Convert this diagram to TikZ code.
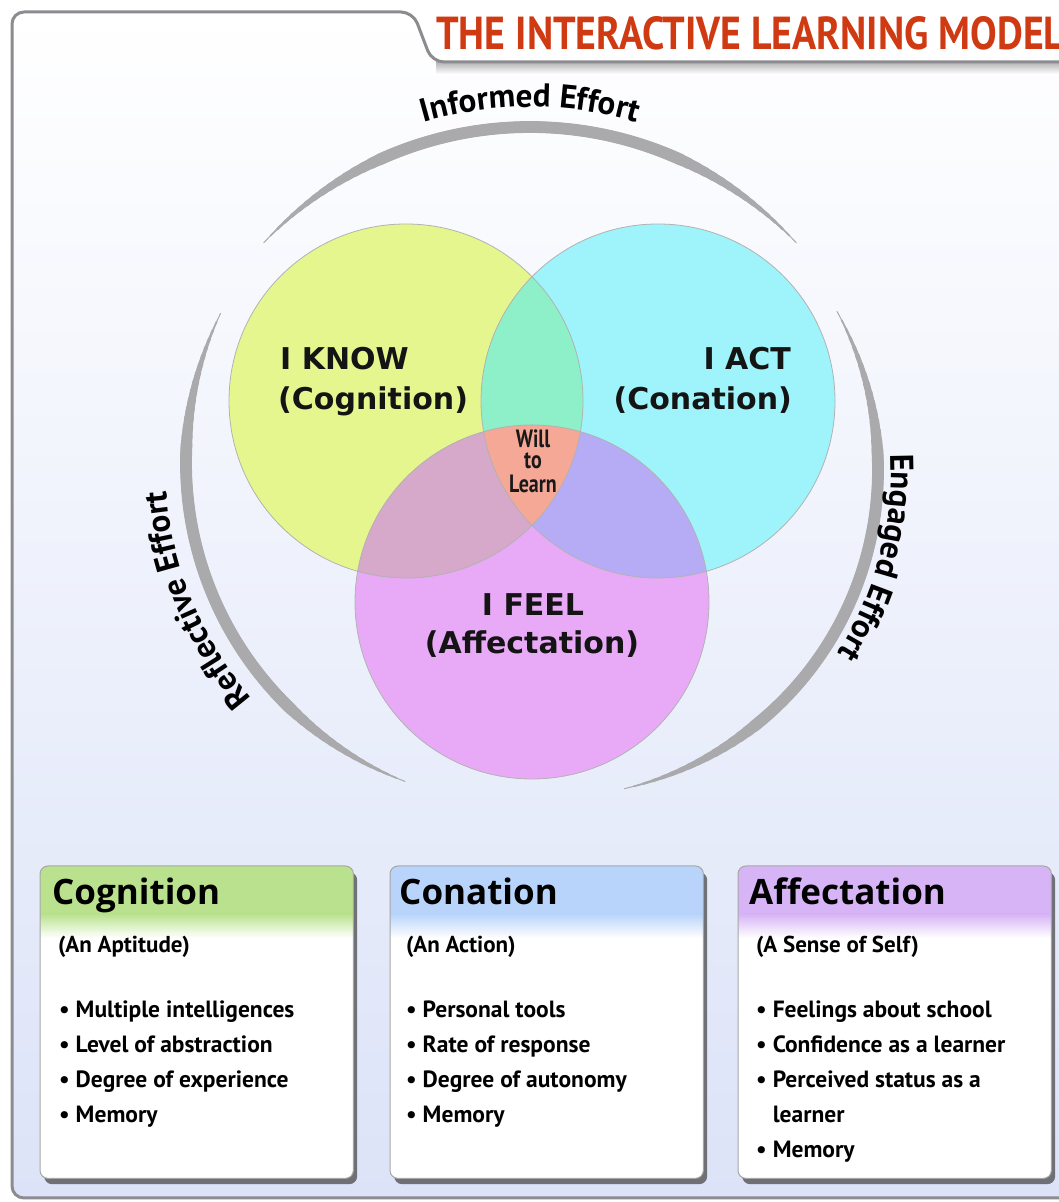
\documentclass[tikz,border=0pt]{standalone}
\usepackage{fontspec}
\usepackage{graphicx}
\setmainfont{PT Sans}
\newfontfamily\labelfont{DejaVu Sans}
\newfontfamily\headfont{Open Sans}
\usetikzlibrary{calc,decorations.text,shadows}

\definecolor{knowcol}{RGB}{230,246,142}
\definecolor{actcol}{RGB}{158,244,250}
\definecolor{feelcol}{RGB}{232,170,246}
\definecolor{knowact}{RGB}{142,240,200}
\definecolor{knowfeel}{RGB}{214,168,202}
\definecolor{actfeel}{RGB}{182,172,246}
\definecolor{willcol}{RGB}{246,168,150}
\definecolor{titlecol}{RGB}{208,58,18}
\definecolor{arcgray}{RGB}{170,170,172}
\definecolor{framegray}{RGB}{140,140,144}
\definecolor{bgmid}{RGB}{246,247,252}
\definecolor{bgbottom}{RGB}{220,227,248}
\definecolor{coghead}{RGB}{186,226,142}
\definecolor{conhead}{RGB}{184,212,250}
\definecolor{affhead}{RGB}{214,180,246}

\newcommand\arcfont{\bfseries\fontsize{33}{33}\selectfont}
% tapered grey arc: centre, radius, start angle, end angle
\newcommand\effortarc[4]{%
  \foreach \k in {0,...,15}{%
    \pgfmathsetmacro\da{\k*0.016*(#4-#3)}%
    \pgfmathsetmacro\lw{1+\k*0.72}%
    \draw[arcgray, line width=\lw pt, line cap=round]
      ($(#1)+({#3+\da}:#2)$) arc[start angle={#3+\da}, end angle={#4-\da}, radius=#2];
  }}

\begin{document}
\begin{tikzpicture}[x=1pt,y=1pt,
  ring/.style={draw=black!30, line width=0.8pt},
  circlabel/.style={font=\labelfont\bfseries\fontsize{30}{30}\selectfont, inner sep=0pt, text=black!92},
  willtext/.style={font=\bfseries\fontsize{25}{25}\selectfont, inner sep=0pt, anchor=base, text=black!90},
  infobox/.style={fill=white, rounded corners=8pt, minimum width=313pt, minimum height=312pt,
    anchor=north west, inner sep=0pt,
    drop shadow={shadow xshift=4pt, shadow yshift=-6pt, fill=black!75, opacity=0.7}},
  boxline/.style={draw=black!35, line width=1pt, rounded corners=8pt},
  headtext/.style={font=\headfont\bfseries\fontsize{35}{35}\selectfont, inner sep=0pt, anchor=base west},
  subtext/.style={font=\bfseries\fontsize{23}{23}\selectfont, inner sep=0pt, anchor=base west},
  listtext/.style={font=\bfseries\fontsize{23.5}{23.5}\selectfont, inner sep=0pt, anchor=base west}]
\useasboundingbox (0,0) rectangle (1059,1202);
\clip (0,0) rectangle (1059,1202);
\fill[white] (0,0) rectangle (1059,1202);

% frame and title
\shade[top color=white, middle color=bgmid, bottom color=bgbottom, rounded corners=12pt]
  (12,4) -- (12,1190) -- (413,1190) -- (432,1140) -- (1075,1140) -- (1075,4) -- cycle;
\shade[top color=black!30, bottom color=white] (436,1128) rectangle (1059,1140);
\draw[framegray, line width=3pt, rounded corners=12pt]
  (12,4) -- (12,1190) -- (413,1190) -- (432,1140) -- (1075,1140) -- (1075,4) -- cycle;
\node[anchor=base west, inner sep=0pt, text=titlecol] (title) at (436,1152)
  {\resizebox{628pt}{33pt}{\bfseries THE INTERACTIVE LEARNING MODEL}};

% venn circles
\coordinate (know) at (406,801);
\coordinate (act) at (658,801);
\coordinate (feel) at (532,600);
\fill[knowcol] (know) circle[radius=177pt];
\fill[actcol] (act) circle[radius=177pt];
\fill[feelcol] (feel) circle[radius=177pt];
\begin{scope}
  \clip (know) circle[radius=177pt];
  \fill[knowact] (act) circle[radius=177pt];
  \fill[knowfeel] (feel) circle[radius=177pt];
\end{scope}
\begin{scope}
  \clip (act) circle[radius=177pt];
  \fill[actfeel] (feel) circle[radius=177pt];
\end{scope}
\begin{scope}
  \clip (know) circle[radius=177pt];
  \clip (act) circle[radius=177pt];
  \fill[willcol] (feel) circle[radius=177pt];
\end{scope}
\draw[ring] (know) circle[radius=177pt];
\draw[ring] (act) circle[radius=177pt];
\draw[ring] (feel) circle[radius=177pt];

\node[circlabel, anchor=base west] (knowtop) at (280,832) {I KNOW};
\node[circlabel, anchor=base west] (knowsub) at (278,792) {(Cognition)};
\node[circlabel, anchor=base east] (acttop) at (791,832) {I ACT};
\node[circlabel, anchor=base east] (actsub) at (792,792) {(Conation)};
\node[circlabel, anchor=base] (feeltop) at (533,586) {I FEEL};
\node[circlabel, anchor=base] (feelsub) at (532,548) {(Affectation)};
\node[willtext] (willa) at (533,754) {\scalebox{0.8}[1]{Will}};
\node[willtext] (willb) at (533,733) {\scalebox{0.8}[1]{to}};
\node[willtext] (willc) at (533,709) {\scalebox{0.8}[1]{Learn}};

% effort arcs
\coordinate (topc) at (530,711);
\coordinate (leftc) at (527,739);
\coordinate (rightc) at (551,732);
\effortarc{topc}{364}{43}{137}
\effortarc{leftc}{341}{154}{249}
\effortarc{rightc}{327}{-77}{29}
\path[decorate, decoration={text along path, text align=center,
  text={|\arcfont|Informed Effort}}]
  ($(topc)+(125:384)$) arc[start angle=125, end angle=55, radius=384];
\path[decorate, decoration={text along path, text align=center,
  text={|\arcfont|Reflective Effort}}]
  ($(leftc)+(235:362)$) arc[start angle=235, end angle=170, radius=362];
\path[decorate, decoration={text along path, text align=center,
  text={|\arcfont|Engaged Effort}}]
  ($(rightc)+(15:340)$) arc[start angle=15, end angle=-45, radius=340];

% info boxes
\node[infobox] (cogbox) at (40,336) {};
\node[infobox] (conbox) at (390,336) {};
\node[infobox] (affbox) at (738,336) {};
\foreach \b/\c in {cogbox/coghead, conbox/conhead, affbox/affhead}{
  \begin{scope}
    \clip[rounded corners=8pt] (\b.south west) rectangle (\b.north east);
    \fill[\c] (\b.north west) rectangle ($(\b.north east)+(0,-48)$);
    \shade[top color=\c, bottom color=white] ($(\b.north west)+(0,-48)$) rectangle ($(\b.north east)+(0,-72)$);
  \end{scope}
  \draw[boxline] (\b.south west) rectangle (\b.north east);
}

\node[headtext] (coghd) at ($(cogbox.north west)+(12,-39)$) {Cognition};
\node[subtext] (cogsub) at ($(cogbox.north west)+(18,-87)$) {(An Aptitude)};
\foreach \t [count=\i] in {• Multiple intelligences, • Level of abstraction, • Degree of experience, • Memory}
  \node[listtext] (cogitem\i) at ($(cogbox.north west)+(19,{-117-35*\i})$) {\t};

\node[headtext] (conhd) at ($(conbox.north west)+(9,-39)$) {Conation};
\node[subtext] (consub) at ($(conbox.north west)+(16,-87)$) {(An Action)};
\foreach \t [count=\i] in {• Personal tools, • Rate of response, • Degree of autonomy, • Memory}
  \node[listtext] (conitem\i) at ($(conbox.north west)+(16,{-117-35*\i})$) {\t};

\node[headtext] (affhd) at ($(affbox.north west)+(11,-39)$) {Affectation};
\node[subtext] (affsub) at ($(affbox.north west)+(18,-87)$) {(A Sense of Self)};
\foreach \t [count=\i] in {• Feelings about school, • Confidence as a learner, • Perceived status as a, \phantom{•} learner, • Memory}
  \node[listtext] (affitem\i) at ($(affbox.north west)+(18,{-117-35*\i})$) {\t};
\end{tikzpicture}
\end{document}
